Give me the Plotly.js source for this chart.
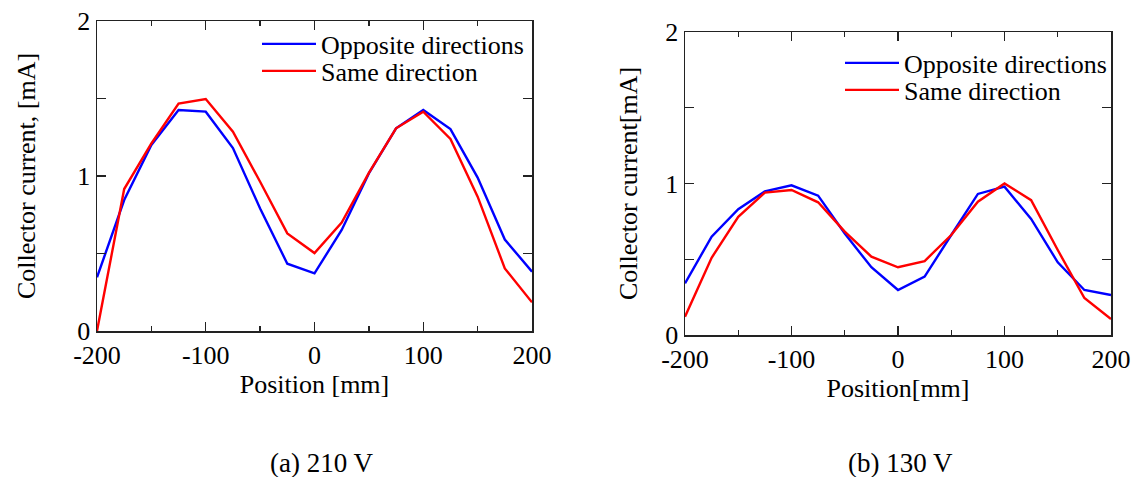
<!DOCTYPE html>
<html>
<head>
<meta charset="utf-8">
<script src="https://cdn.plot.ly/plotly-3.0.1.min.js"></script>
<style>html,body{margin:0;padding:0;background:#fff;}#chart{width:1133px;height:477px;}</style>
</head>
<body>
<div id="chart"></div>
<script>
// Positions (mm)
const positions = [-200,-175,-150,-125,-100,-75,-50,-25,0,25,50,75,100,125,150,175,200];
// (a) 210 V
const opposite210 = [0.346,0.845,1.20,1.426,1.415,1.18,0.79,0.434,0.372,0.652,1.017,1.308,1.426,1.303,0.99,0.59,0.383];
const same210     = [0.0,0.916,1.21,1.467,1.497,1.286,0.963,0.63,0.503,0.70,1.02,1.308,1.415,1.239,0.867,0.404,0.185];
// (b) 130 V
const opposite130 = [0.341,0.649,0.83,0.948,0.988,0.92,0.67,0.447,0.297,0.385,0.66,0.931,0.979,0.766,0.48,0.297,0.264];
const same130     = [0.121,0.51,0.78,0.94,0.957,0.876,0.682,0.517,0.447,0.488,0.66,0.88,1.0,0.89,0.561,0.244,0.105];

const seriesNames = ["Opposite directions", "Same direction"];
const xTickVals = [-200,-100,0,100,200];
const yTickVals = [0,1,2];
const captions = ["(a) 210 V", "(b) 130 V"];
const yTitles = ["Collector current, [mA]", "Collector current[mA]"];
const xTitles = ["Position [mm]", "Position[mm]"];

const FONT = "Times New Roman";
const BLUE = "#0000ff", RED = "#ff0000";
const FS = 26;

const traces = [
  {x: positions, y: opposite210, name: seriesNames[0], mode: "lines", line: {color: BLUE, width: 2.4}, xaxis: "x", yaxis: "y", legend: "legend"},
  {x: positions, y: same210, name: seriesNames[1], mode: "lines", line: {color: RED, width: 2.4}, xaxis: "x", yaxis: "y", legend: "legend2"},
  {x: positions, y: opposite130, name: seriesNames[0], mode: "lines", line: {color: BLUE, width: 2.4}, xaxis: "x2", yaxis: "y2", legend: "legend3"},
  {x: positions, y: same130, name: seriesNames[1], mode: "lines", line: {color: RED, width: 2.4}, xaxis: "x2", yaxis: "y2", legend: "legend4"}
];

const W = 1133, H = 477;
function xd(a,b){return [a/W, b/W];}
function yd(top,bottom){return [1-bottom/H, 1-top/H];}

function xAxis(domain, anchor, title){
  return {
    domain: domain, anchor: anchor, range: [-200,200],
    tickvals: xTickVals, ticktext: xTickVals.map(String),
    ticks: "inside", ticklen: 9, tickwidth: 1.3, tickcolor: "#222",
    minor: {dtick: 50, tick0: 0, ticks: "inside", ticklen: 5, tickwidth: 1.3, tickcolor: "#222"},
    showline: true, linecolor: "#222", linewidth: 1.5, mirror: "allticks",
    showgrid: false, zeroline: false,
    tickfont: {family: FONT, size: FS, color: "#000"},
    title: {text: title, font: {family: FONT, size: FS, color: "#000"}, standoff: 2},
    fixedrange: true
  };
}
function yAxis(domain, anchor, title, standoff){
  return {
    domain: domain, anchor: anchor, range: [0,2],
    tickvals: yTickVals, ticktext: yTickVals.map(String),
    ticks: "inside", ticklen: 9, tickwidth: 1.3, tickcolor: "#222",
    minor: {dtick: 0.5, tick0: 0, ticks: "inside", ticklen: 9, tickwidth: 1.3, tickcolor: "#222"},
    showline: true, linecolor: "#222", linewidth: 1.5, mirror: "allticks",
    showgrid: false, zeroline: false,
    tickfont: {family: FONT, size: FS, color: "#000"},
    title: {text: title, font: {family: FONT, size: FS, color: "#000"}, standoff: standoff},
    fixedrange: true
  };
}

function leg(xPx, yPx){
  return {
    font: {family: FONT, size: FS, color: "#000"},
    bgcolor: "rgba(0,0,0,0)", borderwidth: 0,
    xanchor: "left", yanchor: "middle", itemwidth: 54,
    x: xPx/W, y: 1-yPx/H
  };
}

const layout = {
  width: W, height: H,
  margin: {l: 0, r: 0, t: 0, b: 0},
  paper_bgcolor: "#fff", plot_bgcolor: "#fff",
  showlegend: true,
  xaxis: xAxis(xd(97,532), "y", xTitles[0]),
  yaxis: yAxis(yd(21,331), "x", yTitles[0], 34),
  xaxis2: xAxis(xd(685,1111), "y2", xTitles[1]),
  yaxis2: yAxis(yd(32,335), "x2", yTitles[1], 20),
  legend: leg(257, 44),
  legend2: leg(257, 71),
  legend3: leg(840, 63),
  legend4: leg(840, 90),
  annotations: [
    {text: captions[0], xref: "paper", yref: "paper", x: 321/W, y: 1-463/H, xanchor: "center", yanchor: "middle", showarrow: false, font: {family: FONT, size: 27, color: "#000"}},
    {text: captions[1], xref: "paper", yref: "paper", x: 900/W, y: 1-463/H, xanchor: "center", yanchor: "middle", showarrow: false, font: {family: FONT, size: 27, color: "#000"}}
  ]
};

Plotly.newPlot("chart", traces, layout, {staticPlot: true, displayModeBar: false});
</script>
</body>
</html>
